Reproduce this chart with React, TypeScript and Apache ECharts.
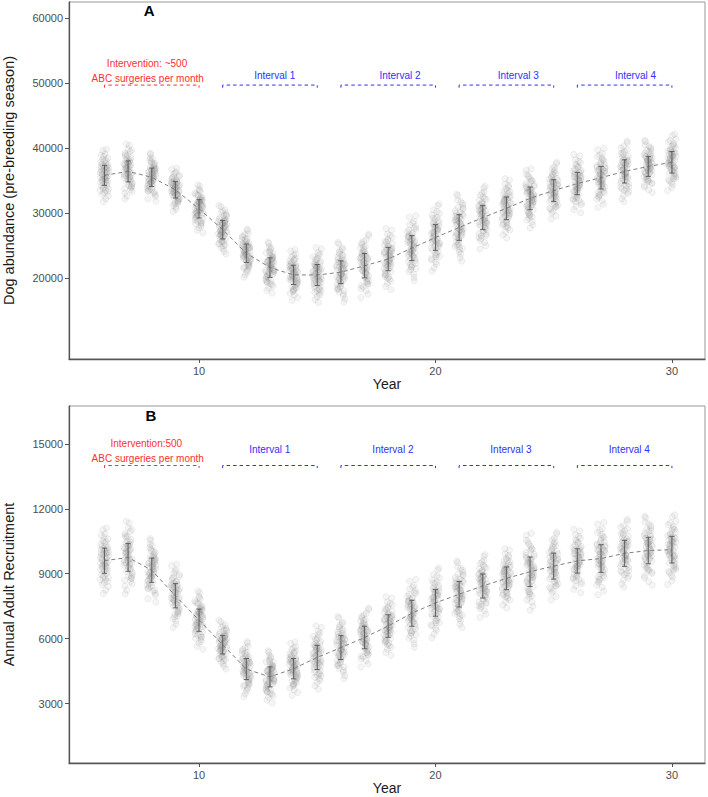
import React, { useEffect, useRef } from "react";
import * as echarts from "echarts";

// ---------------- data ----------------
const YEARS = [6, 7, 8, 9, 10, 11, 12, 13, 14, 15, 16, 17, 18, 19, 20, 21, 22, 23, 24, 25, 26, 27, 28, 29, 30];

// Panel A: dog abundance (pre-breeding season), mean and SD per year
const ABUNDANCE_MEAN = [35800, 36400, 35500, 33580, 30640, 27430, 23800, 21580, 20460, 20440, 20870, 21870, 22900, 24585, 26220, 27760, 29280, 30715, 32250, 33450, 34530, 35430, 36400, 37170, 37810];
const ABUNDANCE_SD = [1540, 1620, 1415, 1280, 1410, 1430, 1415, 1500, 1490, 1615, 1750, 1870, 1800, 1920, 1980, 1975, 1845, 1745, 1745, 1670, 1715, 1740, 1790, 1540, 1660];

// Panel B: annual adult recruitment, mean and SD per year
const RECRUIT_MEAN = [9600, 9750, 9160, 7980, 6850, 5720, 4590, 4230, 4610, 5130, 5585, 6050, 6580, 7170, 7650, 8050, 8430, 8785, 9090, 9350, 9590, 9700, 9940, 10070, 10110];
const RECRUIT_SD = [580, 640, 560, 560, 515, 430, 485, 460, 470, 560, 550, 520, 520, 600, 615, 590, 555, 525, 680, 600, 560, 640, 600, 610, 615];

const ABUNDANCE_TICKS = [20000, 30000, 40000, 50000, 60000];
const RECRUIT_TICKS = [3000, 6000, 9000, 12000, 15000];
const YEAR_TICKS = [10, 20, 30];

const PHASE_START = [6, 11, 16, 21, 26];
const PHASE_END = [10, 15, 20, 25, 30];
const INTERVAL_NAMES = ["Interval 1", "Interval 2", "Interval 3", "Interval 4"];

// ---------------- styling helpers ----------------
// fixed texture used to draw each year's cloud of replicate points
const JITTER_TEXTURE: number[][] = [
  [-0.62, 0.12], [0.35, -0.48], [0.81, 1.05], [-0.15, -1.22], [0.05, 0.33], [-0.88, -0.71], [0.57, 0.64], [-0.41, 1.58], [0.22, -0.09], [0.93, -1.37],
  [-0.73, 0.88], [0.11, 2.14], [-0.29, -0.36], [0.66, -0.82], [-0.95, 0.27], [0.44, 0.19], [-0.52, -1.91], [0.78, 1.73], [-0.06, 0.71], [0.29, -2.35],
  [-0.84, 1.31], [0.49, -0.21], [-0.21, 0.52], [0.97, 0.41], [-0.58, -0.44], [0.14, -0.67], [-0.36, 2.48], [0.71, -1.64], [-0.11, -0.91], [0.38, 1.19],
  [-0.69, -1.08], [0.02, 1.46], [0.86, -0.05], [-0.47, 0.05], [0.25, -1.49], [-0.91, -0.19], [0.59, 0.93], [-0.25, -2.62], [0.08, -0.29], [-0.78, 2.02],
  [0.47, 2.61], [-0.33, 0.96], [0.74, -0.57], [-0.03, -1.74], [0.31, 0.57], [-0.65, 0.44], [0.89, -2.07], [-0.18, 1.88], [0.53, -1.01], [-0.99, -1.52],
  [0.18, 0.85], [-0.44, -0.6], [0.63, 0.29], [-0.08, -0.15], [0.41, 1.52], [-0.56, 1.12], [0.95, 0.72], [-0.31, -1.33], [0.16, -0.4], [-0.8, 0.6],
];

const FONT = "'Liberation Sans', Arial, sans-serif";
const RED = "#ff3030";
const BLUE = "#3030ff";

type Panel = {
  idx: number;
  mean: number[];
  sd: number[];
  bracketTop: number;
  bracketTip: number;
  texts: { x: number; y: number; text: string; color: string; size: number; bold?: boolean }[];
};

function panelSeries(p: Panel): any[] {
  const axis = { xAxisIndex: p.idx, yAxisIndex: p.idx };
  const rows = YEARS.map((y, i) => [y, p.mean[i], p.sd[i], i]);
  const series: any[] = [];

  series.push({
    type: "custom",
    ...axis,
    silent: true,
    z: 1,
    encode: { x: 0, y: 1 },
    data: rows,
    renderItem: (_params: any, api: any) => {
      const year = api.value(0);
      const mean = api.value(1);
      const sd = api.value(2);
      const k = api.value(3);
      const n = JITTER_TEXTURE.length;
      const children = JITTER_TEXTURE.map((pt, i) => {
        const q = JITTER_TEXTURE[(i + k * 7) % n];
        const c = api.coord([year + pt[0] * 0.18, mean + q[1] * sd]);
        return {
          type: "circle",
          shape: { cx: c[0], cy: c[1], r: 3.1 },
          style: { fill: "rgba(120,120,120,0.07)", stroke: "rgba(120,120,120,0.13)", lineWidth: 0.8 },
        };
      });
      return { type: "group", children };
    },
  });

  series.push({
    type: "line",
    ...axis,
    silent: true,
    z: 3,
    symbol: "none",
    color: "#808080",
    data: YEARS.map((y, i) => [y, p.mean[i]]),
    lineStyle: { color: "#808080", width: 1, type: [4, 3] },
  });

  series.push({
    type: "custom",
    ...axis,
    silent: true,
    z: 4,
    encode: { x: 0, y: 1 },
    data: rows,
    renderItem: (_params: any, api: any) => {
      const year = api.value(0);
      const mean = api.value(1);
      const sd = api.value(2);
      const top = api.coord([year, mean + sd]);
      const bot = api.coord([year, mean - sd]);
      const st = { stroke: "#555", lineWidth: 0.9 };
      return {
        type: "group",
        children: [
          { type: "line", shape: { x1: top[0], y1: top[1], x2: bot[0], y2: bot[1] }, style: st },
          { type: "line", shape: { x1: top[0] - 2.6, y1: top[1], x2: top[0] + 2.6, y2: top[1] }, style: st },
          { type: "line", shape: { x1: bot[0] - 2.6, y1: bot[1], x2: bot[0] + 2.6, y2: bot[1] }, style: st },
        ],
      };
    },
  });

  PHASE_START.forEach((s, i) => {
    const e = PHASE_END[i];
    const col = i === 0 ? RED : BLUE;
    series.push({
      type: "line",
      ...axis,
      silent: true,
      z: 5,
      symbol: "none",
      color: col,
      itemStyle: { color: col },
      data: [
        [s, p.bracketTip],
        [s, p.bracketTop],
        [e, p.bracketTop],
        [e, p.bracketTip],
      ],
      lineStyle: { color: col, width: 1, type: [3.5, 3] },
    });
  });

  series.push({
    type: "custom",
    ...axis,
    silent: true,
    z: 6,
    encode: { x: 0, y: 1 },
    data: p.texts.map((t, i) => [t.x, t.y, i]),
    renderItem: (_params: any, api: any) => {
      const t = p.texts[api.value(2)];
      const c = api.coord([api.value(0), api.value(1)]);
      return {
        type: "text",
        x: c[0],
        y: c[1],
        style: {
          text: t.text,
          fill: t.color,
          font: `${t.bold ? "bold " : ""}${t.size}px ${FONT}`,
          align: "center",
          verticalAlign: "middle",
        },
      };
    },
  });

  return series;
}

const plain = (v: number) => String(v);

function xAxis(idx: number) {
  return {
    type: "value",
    gridIndex: idx,
    min: 4.5,
    max: 31.4,
    name: "Year",
    nameLocation: "middle",
    nameGap: 18,
    nameTextStyle: { color: "#1a1a1a", fontSize: 14, fontFamily: FONT },
    axisLine: { onZero: false, lineStyle: { color: "#555", width: 1.3 } },
    axisTick: { length: 4, customValues: YEAR_TICKS, lineStyle: { color: "#555" } },
    axisLabel: { customValues: YEAR_TICKS, formatter: plain, color: "#4d4d4d", fontSize: 11, margin: 6, fontFamily: FONT },
    splitLine: { show: false },
  };
}

function yAxis(idx: number, min: number, max: number, ticks: number[], name: string) {
  return {
    type: "value",
    gridIndex: idx,
    min,
    max,
    name,
    nameLocation: "middle",
    nameGap: 53,
    nameTextStyle: { color: "#1a1a1a", fontSize: 14.5, fontFamily: FONT },
    axisLine: { show: true, onZero: false, lineStyle: { color: "#555", width: 1.3 } },
    axisTick: { show: true, length: 4, customValues: ticks, lineStyle: { color: "#555" } },
    axisLabel: { customValues: ticks, formatter: plain, color: "#4d4d4d", fontSize: 11, margin: 6, fontFamily: FONT },
    splitLine: { show: false },
  };
}

const PANEL_A: Panel = {
  idx: 0,
  mean: ABUNDANCE_MEAN,
  sd: ABUNDANCE_SD,
  bracketTop: 49700,
  bracketTip: 49300,
  texts: [
    { x: 7.89, y: 61120, text: "A", color: "#000", size: 15, bold: true },
    { x: 7.8, y: 53080, text: "Intervention: ~500", color: RED, size: 10 },
    { x: 7.83, y: 50770, text: "ABC surgeries per month", color: RED, size: 10 },
    { x: 13.2, y: 51120, text: INTERVAL_NAMES[0], color: BLUE, size: 10 },
    { x: 18.5, y: 51120, text: INTERVAL_NAMES[1], color: BLUE, size: 10 },
    { x: 23.5, y: 51120, text: INTERVAL_NAMES[2], color: BLUE, size: 10 },
    { x: 28.46, y: 51120, text: INTERVAL_NAMES[3], color: BLUE, size: 10 },
  ],
};

const PANEL_B: Panel = {
  idx: 1,
  mean: RECRUIT_MEAN,
  sd: RECRUIT_SD,
  bracketTop: 14000,
  bracketTip: 13880,
  texts: [
    { x: 7.96, y: 16325, text: "B", color: "#000", size: 15, bold: true },
    { x: 7.77, y: 15000, text: "Intervention:500", color: RED, size: 10 },
    { x: 7.83, y: 14308, text: "ABC surgeries per month", color: RED, size: 10 },
    { x: 12.99, y: 14723, text: INTERVAL_NAMES[0], color: BLUE, size: 10 },
    { x: 18.2, y: 14723, text: INTERVAL_NAMES[1], color: BLUE, size: 10 },
    { x: 23.19, y: 14723, text: INTERVAL_NAMES[2], color: BLUE, size: 10 },
    { x: 28.2, y: 14723, text: INTERVAL_NAMES[3], color: BLUE, size: 10 },
  ],
};

export default function App() {
  const ref = useRef<HTMLDivElement>(null);
  useEffect(() => {
    if (!ref.current) return;
    const chart = echarts.init(ref.current, undefined, { renderer: "svg" });
    const gridBase = {
      left: 69,
      width: 636,
      height: 357,
      show: true,
      borderColor: "#999",
      borderWidth: 1,
      backgroundColor: "#fff",
      containLabel: false,
      outerBoundsMode: "none",
    };
    chart.setOption({
      animation: false,
      backgroundColor: "#fff",
      textStyle: { fontFamily: FONT },
      grid: [
        { ...gridBase, top: 2 },
        { ...gridBase, top: 406 },
      ],
      xAxis: [xAxis(0), xAxis(1)],
      yAxis: [
        yAxis(0, 7500, 62500, ABUNDANCE_TICKS, "Dog abundance (pre-breeding season)"),
        yAxis(1, 250, 16750, RECRUIT_TICKS, "Annual Adult Recruitment"),
      ],
      series: [...panelSeries(PANEL_A), ...panelSeries(PANEL_B)],
    });
    return () => chart.dispose();
  }, []);
  return (
    <div
      ref={ref}
      style={{ position: "fixed", left: 0, top: 0, width: 708, height: 797, background: "#fff" }}
    />
  );
}
